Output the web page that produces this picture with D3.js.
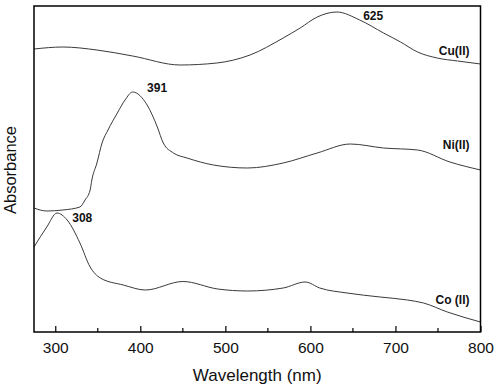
<!DOCTYPE html>
<html>
<head>
<meta charset="utf-8">
<script src="https://cdn.jsdelivr.net/npm/d3@7"></script>
<style>
  body { margin: 0; background: #fff; }
  text { font-family: "Liberation Sans", Arial, sans-serif; }
  .lbl { font-size: 12px; font-weight: bold; fill: #111; }
</style>
</head>
<body>
<div class="spectra"></div>
<script>
// wavelengths (nm) and absorbance (arb. units)
var cuWl = [275, 309, 349, 391, 447, 490, 529, 568, 588, 608, 631, 658, 686, 706, 726, 749, 773, 800];
var cuAbs = [2.83, 2.85, 2.82, 2.76, 2.67, 2.69, 2.77, 2.94, 3.04, 3.15, 3.20, 3.12, 2.99, 2.90, 2.80, 2.74, 2.71, 2.68];

var niWl = [275, 290, 309, 329, 335, 341, 343, 349, 355, 362, 373, 382, 391, 408, 420, 427, 439, 455, 486, 526, 568, 608, 647, 686, 726, 764, 800];
var niAbs = [1.24, 1.21, 1.22, 1.25, 1.32, 1.42, 1.52, 1.69, 1.89, 2.02, 2.19, 2.32, 2.40, 2.27, 2.05, 1.89, 1.79, 1.74, 1.67, 1.64, 1.69, 1.79, 1.88, 1.84, 1.82, 1.70, 1.62];

var coWl = [275, 290, 302, 314, 329, 341, 353, 380, 406, 450, 491, 526, 568, 594, 611, 643, 682, 714, 733, 761, 800];
var coAbs = [0.85, 1.05, 1.19, 1.12, 0.89, 0.65, 0.54, 0.47, 0.42, 0.505, 0.43, 0.41, 0.44, 0.50, 0.44, 0.39, 0.35, 0.32, 0.29, 0.20, 0.10];

var xTicks = [300, 400, 500, 600, 700, 800];
var xMinor = [350, 450, 550, 650, 750];

// peak labels: text, wavelength, absorbance at baseline
var peakLabels = [['625', 662, 3.12], ['391', 408, 2.40], ['308', 320, 1.10]];
var seriesLabels = [['Cu(II)', 2.77], ['Ni(II)', 1.83], ['Co (II)', 0.28]];

var margin = {top: 6, right: 19.5, bottom: 56, left: 34},
    width = 500 - margin.left - margin.right,
    height = 388 - margin.top - margin.bottom;

var x = d3.scaleLinear().domain([275, 800]).range([0, width]);
var y = d3.scaleLinear().domain([0, 3.26]).range([height, 0]);

var svg = d3.select('.spectra')
            .append('svg')
            .attr('width', 500)
            .attr('height', 388)
            .append('g')
            .attr('transform', 'translate(' + margin.left + ',' + margin.top + ')');

var line = d3.line()
    .x(d => x(d[0]))
    .y(d => y(d[1]))
    .curve(d3.curveMonotoneX);

[[cuWl, cuAbs], [niWl, niAbs], [coWl, coAbs]].forEach(function(s) {
    svg.append('path')
        .datum(d3.zip(s[0], s[1]))
        .attr('fill', 'none')
        .attr('stroke', '#3a3a3a')
        .attr('stroke-width', 1)
        .attr('d', line);
});

// frame
svg.append('rect')
    .attr('width', width)
    .attr('height', height)
    .attr('fill', 'none')
    .attr('stroke', '#000')
    .attr('stroke-width', 1.5);

// x axis, ticks pointing inward
var xAxis = d3.axisBottom(x).tickValues(xTicks).tickSize(-6).tickPadding(10);
var gx = svg.append('g')
    .attr('transform', 'translate(0,' + height + ')')
    .call(xAxis);
gx.select('.domain').remove();
gx.selectAll('.tick line').attr('stroke-width', 1.2);
gx.selectAll('.tick text')
    .style('font-size', '15.5px')
    .attr('fill', '#111');

svg.append('g')
    .attr('transform', 'translate(0,' + height + ')')
    .selectAll('line')
    .data(xMinor)
    .enter().append('line')
    .attr('x1', d => x(d))
    .attr('x2', d => x(d))
    .attr('y1', 0)
    .attr('y2', -4)
    .attr('stroke', '#000')
    .attr('stroke-width', 1.2);

// titles
svg.append('text')
    .attr('x', width / 2)
    .attr('y', height + 49)
    .attr('text-anchor', 'middle')
    .style('font-size', '17px')
    .attr('fill', '#111')
    .text('Wavelength (nm)');

svg.append('text')
    .attr('transform', 'translate(' + (-margin.left + 16) + ',' + 164 + ') rotate(-90)')
    .attr('text-anchor', 'middle')
    .style('font-size', '16.5px')
    .attr('fill', '#111')
    .text('Absorbance');

// labels
svg.selectAll('.peak')
    .data(peakLabels)
    .enter().append('text')
    .attr('class', 'lbl')
    .attr('x', d => x(d[1]))
    .attr('y', d => y(d[2]))
    .text(d => d[0]);

svg.selectAll('.series')
    .data(seriesLabels)
    .enter().append('text')
    .attr('class', 'lbl')
    .attr('x', width - 11)
    .attr('y', d => y(d[1]))
    .attr('text-anchor', 'end')
    .text(d => d[0]);
</script>
</body>
</html>
